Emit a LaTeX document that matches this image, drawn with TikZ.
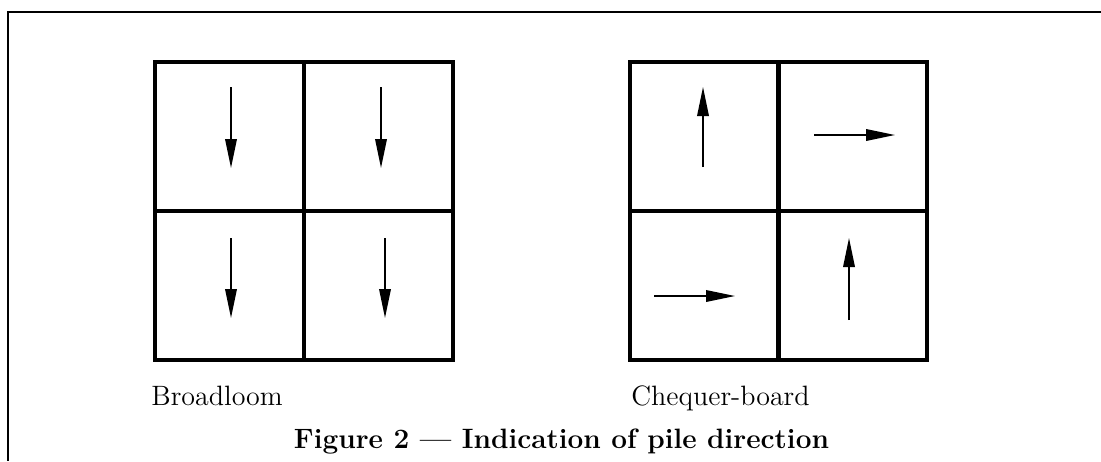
\documentclass[tikz,border=0pt]{standalone}
\usepackage{tikz}
\usetikzlibrary{arrows.meta}
\tikzset{
    cell/.style={draw, rectangle, line width=2pt, minimum width=74.5pt, minimum height=74.5pt, inner sep=0pt},
    pile/.style={line width=0.75pt, -{Triangle[length=14.5pt, width=5.8pt]}},
    label/.style={font=\fontsize{14}{16}\selectfont, inner sep=0pt}
}
\begin{document}
\begin{tikzpicture}[x=0.5pt, y=-0.5pt]
\useasboundingbox (0,0) rectangle (1101,461);
\draw[line width=1.1pt] (1101,12) -- (8,12) -- (8,461);
% broadloom
\node[cell] (b11) at (229.5,136.5) {};
\node[cell] (b12) at (378.5,136.5) {};
\node[cell] (b21) at (229.5,285) {};
\node[cell] (b22) at (378.5,285) {};
\draw[pile] (231,87) -- (231,168);
\draw[pile] (381,87) -- (381,168);
\draw[pile] (231,238) -- (231,318);
\draw[pile] (385,238) -- (385,318);
% chequer-board
\node[cell] (c11) at (704,136.5) {};
\node[cell] (c12) at (852.5,136.5) {};
\node[cell] (c21) at (704,285) {};
\node[cell] (c22) at (852.5,285) {};
\draw[pile] (703,167) -- (703,87);
\draw[pile] (814,135) -- (895,135);
\draw[pile] (654,296) -- (735,296);
\draw[pile] (849,320) -- (849,238);
\node[label, anchor=base west] (broad) at (151,405) {Broadloom};
\node[label, anchor=base west] (cheq) at (631,405) {Chequer-board};
\node[label, anchor=base, font=\fontsize{14}{16}\selectfont\bfseries] (cap) at (561.5,448) {Figure 2 --- Indication of pile direction};
\end{tikzpicture}
\end{document}
